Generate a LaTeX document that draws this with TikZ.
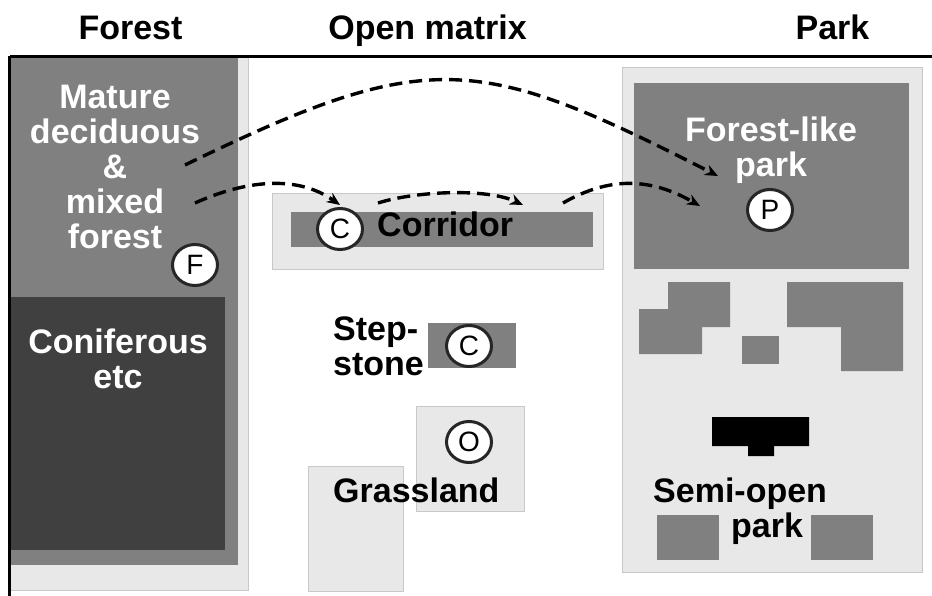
\documentclass[tikz,border=0pt]{standalone}
\usepackage{fontspec}
\setmainfont{Liberation Sans}
\usetikzlibrary{arrows.meta,shapes.geometric}
\definecolor{lightg}{HTML}{E8E8E8}
\definecolor{lightb}{HTML}{C8C8C8}
\definecolor{midg}{HTML}{808080}
\definecolor{darkg}{HTML}{404040}
\definecolor{ringc}{HTML}{262626}
\begin{document}
\begin{tikzpicture}[x=1pt,y=-1pt,
  lightbox/.style={fill=lightg,draw=lightb,line width=0.8pt},
  midbox/.style={fill=midg,draw=none},
  darkbox/.style={fill=darkg,draw=none},
  blackbox/.style={fill=black,draw=none},
  txt/.style={font=\bfseries\fontsize{34}{35}\selectfont,inner sep=0pt},
  whitetxt/.style={txt,text=white},
  badge/.style={ellipse,draw=ringc,line width=3pt,fill=white,minimum width=45pt,minimum height=41pt,inner sep=0pt,font=\fontsize{28}{28}\selectfont},
  flow/.style={line width=3.4pt,dash pattern=on 13pt off 7pt,-{Stealth[length=13pt,width=11pt,inset=4pt]}},
  frame/.style={line width=3pt,draw=black}
]
\useasboundingbox (0,0) rectangle (932,596);
% Forest column
\path[lightbox] (10,56) rectangle (248,590);
\path[midbox] (10,56) rectangle (238,565);
\path[darkbox] (10,297) rectangle (225,550);
% Open matrix
\path[lightbox] (272,193) rectangle (603,269);
\path[midbox] (291,212) rectangle (593,247);
\path[midbox] (428,323) rectangle (516,368);
\path[lightbox] (416,406) rectangle (524,511);
\path[lightbox] (308,466) rectangle (403,591);
% Park
\path[lightbox] (622,67) rectangle (922,572);
\path[midbox] (634,83) rectangle (909,269);
\path[midbox] (668,282) -- (730,282) -- (730,327) -- (702,327) -- (702,354) -- (639,354) -- (639,309) -- (668,309) -- cycle;
\path[midbox] (742,336) rectangle (779,364);
\path[midbox] (787,282) -- (903,282) -- (903,371) -- (841,371) -- (841,327) -- (787,327) -- cycle;
\path[blackbox] (712,417) -- (809,417) -- (809,446) -- (774,446) -- (774,456) -- (748,456) -- (748,446) -- (712,446) -- cycle;
\path[midbox] (657,515) rectangle (719,560);
\path[midbox] (811,515) rectangle (873,560);
% frame lines
\draw[frame] (10,56.5) -- (932,56.5);
\draw[frame] (9.5,56) -- (9.5,596);
% titles
\node[txt,anchor=base] (tforest) at (130.5,40) {Forest};
\node[txt,anchor=base] (tmatrix) at (427.5,40) {Open matrix};
\node[txt,anchor=base] (tpark) at (832.5,40) {Park};
% labels
\node[whitetxt,align=center] (lforest) at (115,167) {Mature\\deciduous\\\&\\mixed\\forest};
\node[whitetxt,align=center] (lconif) at (118,359) {Coniferous\\etc};
\node[whitetxt,align=center] (lfpark) at (771,150.5) {Forest-like\\park};
\node[txt,anchor=base west] (lcorr) at (377,237) {Corridor};
\node[txt,align=left,anchor=west] (lstep) at (333,346) {Step-\\stone};
\node[txt,anchor=base west] (lgrass) at (333,502) {Grassland};
\node[txt,anchor=base west] (lsemi) at (653,502) {Semi-open};
\node[txt,anchor=base] (lspark) at (767,537) {park};
% badges
\node[badge] (bf) at (195,265) {F};
\node[badge] (bc1) at (340,229) {C};
\node[badge] (bc2) at (469,346) {C};
\node[badge] (bo) at (469,442) {O};
\node[badge] (bp) at (770,210) {P};
% flows
\coordinate (s1) at (185,165);
\coordinate (e1) at (718,176);
\coordinate (s2) at (195,203);
\coordinate (e2) at (340,205);
\coordinate (s3) at (378,203);
\coordinate (e3) at (523,205);
\coordinate (s4) at (563,203);
\coordinate (e4) at (700,206);
\draw[flow] (s1) .. controls (428,47) and (477,53) .. (e1);
\draw[flow] (s2) .. controls (244,181) and (296,174) .. (e2);
\draw[flow] (s3) .. controls (416,191) and (487,188) .. (e3);
\draw[flow] (s4) .. controls (611,175.5) and (652,178.5) .. (e4);
\end{tikzpicture}
\end{document}
